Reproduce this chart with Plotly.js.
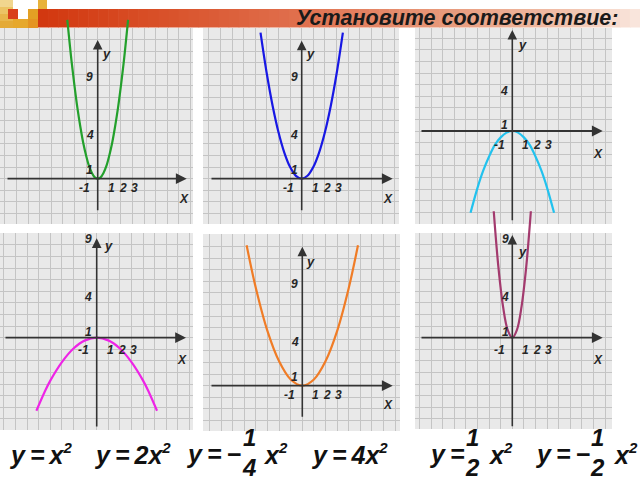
<!DOCTYPE html>
<html><head><meta charset="utf-8">
<script src="https://cdn.plot.ly/plotly-3.0.1.min.js"></script>
<style>html,body{margin:0;padding:0;background:#fff;} #chart{width:640px;height:480px;}</style>
</head><body><div id="chart"></div>
<script>
// ---------------- data ----------------
const titleText = 'Установите соответствие:';

// panel 1: green parabola
const greenX = [-2.62,-2.25,-2,-1.75,-1.5,-1.25,-1,-0.75,-0.5,-0.25,0,0.25,0.5,0.75,1,1.25,1.5,1.75,2,2.25,2.62];
const greenY = [13.7,10.1,8,6.1,4.5,3.1,2,1.1,0.5,0.12,0,0.12,0.5,1.1,2,3.1,4.5,6.1,8,10.1,13.7];
// panel 2: blue parabola
const blueX = [-3.55,-3,-2.5,-2,-1.5,-1,-0.5,0,0.5,1,1.5,2,2.5,3,3.55];
const blueY = [12.6,9,6.25,4,2.25,1,0.25,0,0.25,1,2.25,4,6.25,9,12.6];
// panel 3: cyan parabola (opens down)
const cyanX = [-3.6,-3,-2.5,-2,-1.5,-1,-0.5,0,0.5,1,1.5,2,2.5,3,3.6];
const cyanY = [-7.05,-4.9,-3.4,-2.2,-1.2,-0.55,-0.14,0,-0.14,-0.55,-1.2,-2.2,-3.4,-4.9,-7.05];
// panel 4: magenta parabola (opens down, wide)
const magentaX = [-5.2,-4.5,-4,-3,-2,-1,0,1,2,3,4,4.5,5.2];
const magentaY = [-6.3,-4.7,-3.7,-2.1,-0.93,-0.23,0,-0.23,-0.93,-2.1,-3.7,-4.7,-6.3];
// panel 5: orange parabola
const orangeX = [-4.8,-4,-3,-2,-1,0,1,2,3,4,4.8];
const orangeY = [12.1,8.4,4.7,2.1,0.53,0,0.53,2.1,4.7,8.4,12.1];
// panel 6: purple parabola (narrow)
const purpleX = [-1.6,-1.2,-0.8,-0.4,0,0.4,0.8,1.2,1.6];
const purpleY = [10.9,6.1,2.7,0.68,0,0.68,2.7,6.1,10.9];

const yTickValues = [9, 4, 1];
const yTickLabels = ['9', '4', '1'];
const xTickValues = [-1, 1, 2, 3];
const xTickLabels = ['-1', '1', '2', '3'];
const yAxisName = 'y';
const xAxisName = 'X';

// formulas: prefix, optional fraction (numerator / denominator), suffix
const SQ = '<sup><span style="font-size:15px">2</span></sup>';
const formulaPrefix = ['y\u2009=\u2009x' + SQ, 'y\u2009=\u20092x' + SQ, 'y\u2009=\u2009\u2212', 'y\u2009=\u20094x' + SQ, 'y\u2009=', 'y\u2009=\u2009\u2212'];
const fractionNum = [null, null, '1', null, '1', '1'];
const fractionDen = [null, null, '4', null, '2', '2'];
const formulaSuffix = [null, null, 'x' + SQ, null, 'x' + SQ, 'x' + SQ];

// ---------------- layout constants ----------------
const W = 640, H = 480, U = 11.6;
const FONT = "'Liberation Sans', Arial, sans-serif";
const GRID = '#c4c4c4';
const PANEL_BG = '#e9e9e9';
const AXIS_C = '#333333';
const LABEL_C = '#262626';

const panels = [
  {x0:0,  x1:193, y0:28,  y1:224, ox:97.7,  oy:178.7, axL:6,   axR:186.7, ayB:211.7, ayT:40,   ydx:-8.2, ydy:-3,   xdy:9.6,  yLab:[106.7,53.3], xLab:[184,199.3]},
  {x0:203,x1:399, y0:28,  y1:224, ox:301.7, oy:178.7, axL:210, axR:392.7, ayB:211.7, ayT:40.7, ydx:-7.7, ydy:-3,   xdy:9.6,  yLab:[310,53.3],   xLab:[388.3,199.3]},
  {x0:415,x1:612, y0:28,  y1:224, ox:512.3, oy:131,   axL:420, axR:602.7, ayB:221.7, ayT:30,   ydx:-7.8, ydy:-6,   xdy:13.5, yLab:[522.7,44.3], xLab:[598.3,154.3]},
  {x0:0,  x1:193, y0:233, y1:430, ox:96.7,  oy:337.7, axL:4,   axR:186,   ayB:428,   ayT:238.3,ydx:-8.4, ydy:-5.5, xdy:12.6, yLab:[108.3,245.7],xLab:[181.7,360]},
  {x0:203,x1:400, y0:234, y1:431, ox:302.3, oy:385.7, axL:210, axR:392.7, ayB:418.3, ayT:246.7,ydx:-7.5, ydy:-3,   xdy:9.5,  yLab:[310,261],    xLab:[388.3,405]},
  {x0:415,x1:612, y0:233, y1:429, ox:512.3, oy:337.7, axL:420, axR:602.7, ayB:427.7, ayT:235,  ydx:-7,   ydy:-5.5, xdy:12.5, yLab:[522.7,251],  xLab:[598.3,360]}
];
const curves = [
  {x:greenX,   y:greenY,   color:'#23a02c'},
  {x:blueX,    y:blueY,    color:'#1818e4'},
  {x:cyanX,    y:cyanY,    color:'#22c2ee'},
  {x:magentaX, y:magentaY, color:'#ee24e6'},
  {x:orangeX,  y:orangeY,  color:'#f07c26'},
  {x:purpleX,  y:purpleY,  color:'#a33a6e'}
];
// formula placement (px)
const formulaPos = [
  {left:7,   cy:454},
  {left:92,  cy:454},
  {left:184, cy:454, fx:249, suf:261},
  {left:309, cy:454},
  {left:427, cy:454, fx:472, suf:486},
  {left:533, cy:454, fx:597, suf:611}
];

function px(x){return x / W;}
function py(y){return 1 - y / H;}
function axName(p, n){return n === 1 ? p + 'axis' : p + 'axis' + n;}
function ref(p, n){return n === 1 ? p : p + n;}

const layout = {
  width: W, height: H,
  margin: {l:0, r:0, t:0, b:0, pad:0},
  paper_bgcolor: '#ffffff',
  plot_bgcolor: 'rgba(0,0,0,0)',
  showlegend: false,
  shapes: [], annotations: []
};
const traces = [];
const E = 30;

panels.forEach((p, i) => {
  const n = i + 1, m = i + 7;
  const gridAxis = {showgrid:true, gridcolor:GRID, gridwidth:1, dtick:1, tick0:0, zeroline:false,
                    showticklabels:false, ticks:'', showline:false, fixedrange:true, autorange:false};
  layout[axName('x', n)] = Object.assign({}, gridAxis, {domain:[px(p.x0), px(p.x1)], range:[(p.x0-p.ox)/U, (p.x1-p.ox)/U], anchor:ref('y', n)});
  layout[axName('y', n)] = Object.assign({}, gridAxis, {domain:[py(p.y1), py(p.y0)], range:[(p.oy-p.y1)/U, (p.oy-p.y0)/U], anchor:ref('x', n)});
  const yt = Math.max(0, p.y0 - E), yb = Math.min(H, p.y1 + E);
  const plainAxis = {showgrid:false, zeroline:false, showticklabels:false, ticks:'', showline:false, fixedrange:true, autorange:false};
  layout[axName('x', m)] = Object.assign({}, plainAxis, {domain:[px(p.x0), px(p.x1)], range:[(p.x0-p.ox)/U, (p.x1-p.ox)/U], anchor:ref('y', m)});
  layout[axName('y', m)] = Object.assign({}, plainAxis, {domain:[py(yb), py(yt)], range:[(p.oy-yb)/U, (p.oy-yt)/U], anchor:ref('x', m)});

  // panel background
  layout.shapes.push({type:'rect', xref:'paper', yref:'paper', x0:px(p.x0), x1:px(p.x1), y0:py(p.y1), y1:py(p.y0),
                      fillcolor:PANEL_BG, line:{width:0}, layer:'below'});

  // curve
  const c = curves[i];
  traces.push({type:'scatter', mode:'lines', x:c.x, y:c.y, xaxis:ref('x', m), yaxis:ref('y', m),
               line:{color:c.color, width:2.2, shape:'spline', smoothing:1}, hoverinfo:'skip'});

  const xr = ref('x', n), yr = ref('y', n);
  // axes with arrows
  layout.annotations.push({xref:xr, yref:yr, axref:xr, ayref:yr, x:(p.axR-p.ox)/U, y:0, ax:(p.axL-p.ox)/U, ay:0,
    text:'', showarrow:true, arrowhead:2, arrowsize:1.2, arrowwidth:1.8, arrowcolor:AXIS_C});
  layout.annotations.push({xref:xr, yref:yr, axref:xr, ayref:yr, x:0, y:(p.oy-p.ayT)/U, ax:0, ay:(p.oy-p.ayB)/U,
    text:'', showarrow:true, arrowhead:2, arrowsize:1.2, arrowwidth:1.6, arrowcolor:AXIS_C});

  const lf = {family:FONT, size:12, color:LABEL_C};
  yTickValues.forEach((v, k) => {
    layout.annotations.push({xref:xr, yref:yr, x:0, y:v, text:'<b><i>'+yTickLabels[k]+'</i></b>', showarrow:false,
      xshift:p.ydx, yshift:p.ydy, font:lf, xanchor:'center', yanchor:'middle'});
  });
  xTickValues.forEach((v, k) => {
    layout.annotations.push({xref:xr, yref:yr, x:v, y:0, text:'<b><i>'+xTickLabels[k]+'</i></b>', showarrow:false,
      xshift: v < 0 ? -1.5 : 1.8, yshift:-p.xdy, font:lf, xanchor:'center', yanchor:'middle'});
  });
  layout.annotations.push({xref:'paper', yref:'paper', x:px(p.yLab[0]), y:py(p.yLab[1]), text:'<b><i>'+yAxisName+'</i></b>',
    showarrow:false, font:{family:FONT, size:13, color:LABEL_C}, xanchor:'center', yanchor:'middle'});
  layout.annotations.push({xref:'paper', yref:'paper', x:px(p.xLab[0]), y:py(p.xLab[1]), text:'<b><i>'+xAxisName+'</i></b>',
    showarrow:false, font:{family:FONT, size:12, color:LABEL_C}, xanchor:'center', yanchor:'middle'});
});

// ---- banner (top decoration) ----
const stops = [[38,[210,55,15]],[150,[216,78,38]],[300,[224,112,78]],[450,[232,155,125]],[560,[240,190,168]],[640,[250,232,224]]];
function bannerColor(x){
  for (let k = 0; k < stops.length - 1; k++) {
    const a = stops[k], b = stops[k+1];
    if (x <= b[0]) {
      const t = (x - a[0]) / (b[0] - a[0]);
      const c = a[1].map((v, j) => Math.round(v + (b[1][j] - v) * t));
      return 'rgb(' + c.join(',') + ')';
    }
  }
  return 'rgb(250,232,224)';
}
const NS = 60, bx0 = 38, bx1 = 640;
for (let k = 0; k < NS; k++) {
  const a = bx0 + (bx1 - bx0) * k / NS, b = bx0 + (bx1 - bx0) * (k + 1) / NS;
  layout.shapes.push({type:'rect', xref:'paper', yref:'paper', x0:px(a), x1:px(b + 0.6), y0:py(27.5), y1:py(9),
    fillcolor:bannerColor((a + b) / 2), line:{width:0}, layer:'below'});
}
const blocks = [
  [0,13,0,7,'#f1d68e'],[0,13,7,14,'#ecc464'],[0,13,14,21,'#e8b64a'],[0,13,21,28,'#e4aa36'],
  [8,18,9,19,'#d9401a'],[13,18,19,28,'#e6a82c'],[18,28,19,28,'#e6a82c'],
  [28,38,9,19,'#e3a024'],[28,38,19,28,'#e49422'],[38,47,0,9,'#e8b23a']
];
blocks.forEach(b => layout.shapes.push({type:'rect', xref:'paper', yref:'paper', x0:px(b[0]), x1:px(b[1]), y0:py(b[3]), y1:py(b[2]),
  fillcolor:b[4], line:{width:0}, layer:'below'}));

// ---- title ----
layout.annotations.push({xref:'paper', yref:'paper', x:px(620), y:py(18), xanchor:'right', yanchor:'middle',
  text:'<b><i>' + titleText + '</i></b>', showarrow:false, font:{family:FONT, size:21.5, color:'#1a1a1a'}});

// ---- formulas ----
const ff = {family:FONT, size:25, color:'#111111'};
const fracF = {family:FONT, size:24, color:'#111111'};
formulaPrefix.forEach((t, k) => {
  const fp = formulaPos[k];
  layout.annotations.push({xref:'paper', yref:'paper', x:px(fp.left), y:py(fp.cy), xanchor:'left', yanchor:'middle',
    text:'<b><i>' + t + '</i></b>', showarrow:false, font:ff});
  if (fractionNum[k]) {
    layout.annotations.push({xref:'paper', yref:'paper', x:px(fp.fx), y:py(437), xanchor:'center', yanchor:'middle',
      text:'<b><i>' + fractionNum[k] + '</i></b>', showarrow:false, font:fracF});
    layout.annotations.push({xref:'paper', yref:'paper', x:px(fp.fx), y:py(467), xanchor:'center', yanchor:'middle',
      text:'<b><i>' + fractionDen[k] + '</i></b>', showarrow:false, font:fracF});
    layout.annotations.push({xref:'paper', yref:'paper', x:px(fp.suf), y:py(fp.cy), xanchor:'left', yanchor:'middle',
      text:'<b><i>' + formulaSuffix[k] + '</i></b>', showarrow:false, font:ff});
  }
});

Plotly.newPlot('chart', traces, layout, {staticPlot:true, displayModeBar:false});
</script>
</body></html>
